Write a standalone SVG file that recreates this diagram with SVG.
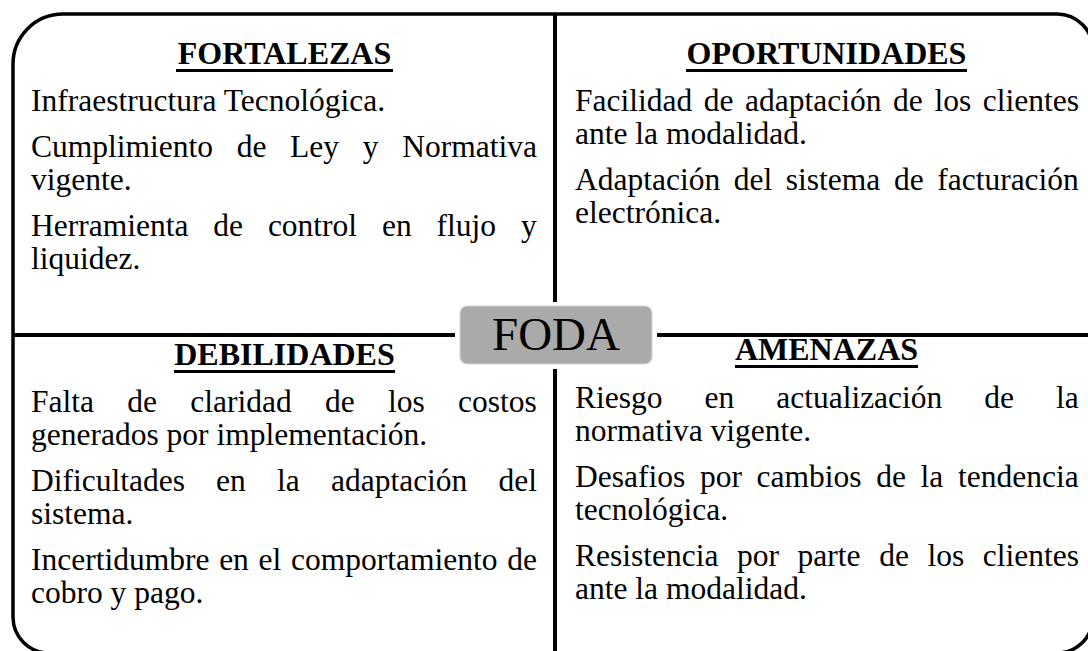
<svg xmlns="http://www.w3.org/2000/svg" width="1088" height="651" viewBox="0 0 1088 651">
<style>
.frame{fill:none;stroke:#000;stroke-width:3.5}
.div{stroke:#000;stroke-width:4;fill:none}
.ul{stroke:#000;stroke-width:3}
.head{font-family:"Liberation Serif","Times New Roman",serif;font-size:32px;font-weight:bold;text-anchor:middle;fill:#000}
.body{font-family:"Liberation Serif","Times New Roman",serif;font-size:31.5px;fill:#000}
.foda{font-family:"Liberation Serif","Times New Roman",serif;font-size:47px;text-anchor:middle;fill:#000}
</style>
<rect x="0" y="0" width="1088" height="651" fill="#fff"/>
<path class="frame" d="M63 14 H1057 A36 36 0 0 1 1093 50 V617 A36 36 0 0 1 1057 653 H49 A36 36 0 0 1 13 617 V64 A50 50 0 0 1 63 14 Z"/>
<g id="connectors">
<line class="div" x1="555" y1="14" x2="555" y2="302"/>
<line class="div" x1="555" y1="369" x2="555" y2="653"/>
<line class="div" x1="13" y1="335" x2="455" y2="335"/>
<line class="div" x1="657" y1="335" x2="1093" y2="335"/>
</g>
<g id="fortalezas">
<text class="head" x="284.5" y="64">FORTALEZAS</text>
<line class="ul" x1="176" y1="70.5" x2="393" y2="70.5"/>
<text class="body" x="31" y="111">Infraestructura Tecnológica.</text>
<text class="body" x="31" y="157" word-spacing="15.8">Cumplimiento de Ley y Normativa</text>
<text class="body" x="31" y="190">vigente.</text>
<text class="body" x="31" y="236" word-spacing="17">Herramienta de control en flujo y</text>
<text class="body" x="31" y="269">liquidez.</text>
</g>
<g id="oportunidades">
<text class="head" x="826.5" y="64">OPORTUNIDADES</text>
<line class="ul" x1="686" y1="70.5" x2="967" y2="70.5"/>
<text class="body" x="575" y="111" word-spacing="3.7">Facilidad de adaptación de los clientes</text>
<text class="body" x="575" y="144">ante la modalidad.</text>
<text class="body" x="575" y="190" word-spacing="5.7">Adaptación del sistema de facturación</text>
<text class="body" x="575" y="223">electrónica.</text>
</g>
<g id="debilidades">
<text class="head" x="284.5" y="365">DEBILIDADES</text>
<line class="ul" x1="174" y1="371.5" x2="395" y2="371.5"/>
<text class="body" x="31" y="412" word-spacing="25.4">Falta de claridad de los costos</text>
<text class="body" x="31" y="445">generados por implementación.</text>
<text class="body" x="31" y="491" word-spacing="23.3">Dificultades en la adaptación del</text>
<text class="body" x="31" y="524">sistema.</text>
<text class="body" x="31" y="570" word-spacing="1.85">Incertidumbre en el comportamiento de</text>
<text class="body" x="31" y="603">cobro y pago.</text>
</g>
<g id="amenazas">
<text class="head" x="826.5" y="360">AMENAZAS</text>
<line class="ul" x1="735" y1="366.5" x2="918" y2="366.5"/>
<text class="body" x="575" y="408" word-spacing="34.1">Riesgo en actualización de la</text>
<text class="body" x="575" y="441">normativa vigente.</text>
<text class="body" x="575" y="487" word-spacing="6.8">Desafios por cambios de la tendencia</text>
<text class="body" x="575" y="520">tecnológica.</text>
<text class="body" x="575" y="566" word-spacing="10.7">Resistencia por parte de los clientes</text>
<text class="body" x="575" y="599">ante la modalidad.</text>
</g>
<g id="foda">
<rect x="460" y="306" width="192" height="58" rx="7" fill="#aaaaaa" stroke="#d4d4d4" stroke-width="1.2"/>
<text class="foda" x="556" y="350">FODA</text>
</g>
</svg>
